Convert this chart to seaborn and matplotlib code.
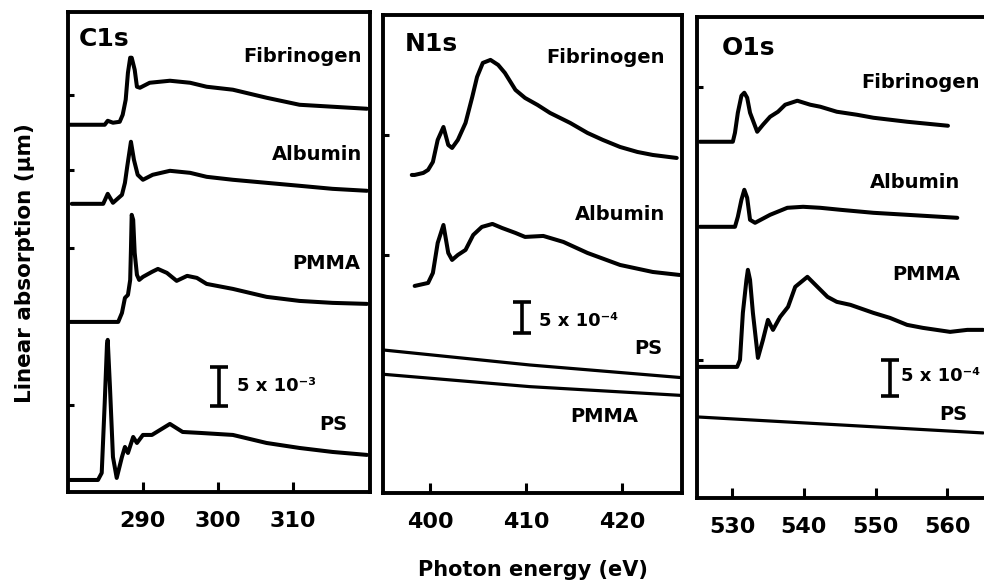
import matplotlib
matplotlib.use("Agg")
import matplotlib.pyplot as plt
import numpy as np
import pandas as pd
import seaborn as sns

# ---------------------------------------------------------------------------
# NEXAFS spectra: photon energy (eV) and linear absorption above the
# pre-edge level. C1s in units of 1e-3, N1s and O1s in units of 1e-4.
# Each spectrum is stacked by its offset.
# ---------------------------------------------------------------------------

# ---- C1s edge ----
c1s_fib_e = [280.3, 284.9, 285.3, 286.0, 286.9, 287.3, 287.7, 288.0, 288.3, 288.5,
             288.9, 289.2, 289.6, 290.9, 293.6, 296.3, 298.5, 302.0, 306.5, 310.9,
             315.3, 319.9]
c1s_fib_a = [0.0, 0.0, 0.51, 0.26, 0.38, 1.28, 3.2, 6.67, 8.59, 8.59,
             7.05, 4.87, 4.74, 5.38, 5.64, 5.38, 4.87, 4.49, 3.46, 2.56,
             2.31, 2.05]
c1s_alb_e = [280.5, 284.7, 285.3, 286.0, 287.2, 287.6, 287.9, 288.4, 288.8, 289.3,
             290.0, 291.3, 293.6, 296.3, 298.5, 302.0, 306.5, 310.9, 315.3, 319.9]
c1s_alb_a = [0.0, 0.0, 1.28, 0.13, 1.15, 2.69, 4.74, 7.95, 5.64, 3.72,
             3.08, 3.72, 4.23, 3.97, 3.46, 3.08, 2.69, 2.31, 1.92, 1.67]
c1s_pmma_e = [280.3, 286.7, 287.2, 287.6, 288.0, 288.3, 288.4, 288.5, 288.7, 288.9,
              289.2, 289.5, 290.0, 291.2, 292.0, 293.2, 294.5, 295.9, 297.2, 298.5,
              302.0, 306.5, 310.9, 315.3, 319.9]
c1s_pmma_a = [0.0, 0.0, 1.15, 3.08, 3.46, 5.38, 9.23, 13.72, 13.08, 8.85,
              6.03, 5.38, 5.77, 6.41, 6.79, 6.28, 5.26, 5.9, 5.64, 4.87,
              4.23, 3.21, 2.69, 2.44, 2.31]
c1s_ps_e = [280.3, 284.0, 284.5, 284.9, 285.2, 285.3, 285.6, 286.0, 286.5, 287.2,
            287.6, 288.0, 288.7, 289.2, 290.0, 291.2, 293.6, 295.3, 297.6, 302.0,
            306.5, 310.9, 315.3, 319.9]
c1s_ps_a = [0.0, 0.0, 0.9, 9.87, 17.31, 17.95, 11.92, 2.95, 0.26, 2.95,
            4.23, 3.46, 5.51, 4.74, 5.77, 5.77, 7.18, 6.15, 6.03, 5.77,
            4.74, 4.1, 3.59, 3.21]
c1s_offsets = {"Fibrinogen": 47.05, "Albumin": 36.92, "PMMA": 21.79, "PS": 1.54}

# ---- N1s edge ----
n1s_fib_e = [398.1, 398.4, 399.3, 399.8, 400.3, 400.8, 401.4, 401.9, 402.3, 402.9,
             403.7, 404.4, 404.9, 405.5, 406.3, 407.1, 407.8, 408.9, 409.9, 411.2,
             412.5, 414.6, 416.4, 418.0, 419.8, 421.6, 423.2, 425.7]
n1s_fib_a = [0.0, 0.0, 0.33, 0.82, 2.12, 5.71, 7.82, 4.89, 4.4, 5.71,
             8.48, 12.71, 15.97, 18.26, 18.75, 17.93, 16.63, 13.86, 12.55, 11.41,
             10.11, 8.48, 6.85, 5.71, 4.56, 3.75, 3.26, 2.77]
n1s_alb_e = [398.4, 399.8, 400.3, 400.8, 401.4, 401.9, 402.3, 402.9, 403.7, 404.5,
             405.4, 406.5, 407.5, 408.9, 409.9, 411.8, 413.9, 416.4, 419.8, 423.2,
             426.0]
n1s_alb_a = [0.0, 0.49, 2.12, 7.01, 9.94, 5.38, 4.24, 5.05, 5.87, 8.31,
             9.62, 10.11, 9.45, 8.64, 7.99, 8.15, 7.17, 5.38, 3.42, 2.28,
             1.79]
n1s_ps_e = [395.1, 410.4, 426.2]
n1s_ps_a = [23.31, 20.86, 18.8]
n1s_pmma_e = [395.1, 410.4, 426.2]
n1s_pmma_a = [19.35, 17.33, 15.9]
n1s_offsets = {"Fibrinogen": 51.83, "Albumin": 33.74, "PS": 0.0, "PMMA": 0.0}

# ---- O1s edge ----
o1s_fib_e = [525.5, 530.1, 530.4, 530.8, 531.3, 531.7, 532.1, 532.5, 533.5, 534.3,
             535.3, 536.4, 537.4, 539.1, 540.9, 542.3, 544.6, 547.4, 549.7, 554.4,
             560.1]
o1s_fib_a = [0.0, 0.0, 1.26, 4.06, 6.44, 6.86, 6.16, 4.06, 1.4, 2.38,
             3.5, 4.2, 5.18, 5.74, 5.18, 4.9, 4.2, 3.78, 3.36, 2.8,
             2.24]
o1s_alb_e = [525.5, 530.4, 530.8, 531.3, 531.7, 532.1, 532.5, 533.2, 535.3, 537.7,
             539.9, 542.3, 545.1, 549.7, 554.4, 561.4]
o1s_alb_a = [0.0, 0.0, 1.4, 3.78, 5.18, 4.06, 0.98, 0.56, 1.68, 2.66,
             2.8, 2.66, 2.38, 1.96, 1.68, 1.26]
o1s_pmma_e = [525.1, 530.7, 531.1, 531.5, 532.0, 532.2, 532.5, 532.9, 533.4, 533.6,
              534.3, 535.0, 535.7, 536.7, 537.8, 538.8, 540.5, 541.9, 543.3, 544.6,
              546.5, 549.7, 552.0, 554.4, 556.6, 560.4, 562.8, 565.0]
o1s_pmma_a = [0.0, 0.0, 0.98, 7.56, 12.18, 13.58, 12.18, 7.56, 3.08, 1.26,
              3.78, 6.58, 5.18, 7.0, 8.4, 11.2, 12.6, 11.2, 9.8, 9.1,
              8.68, 7.56, 6.86, 5.88, 5.46, 4.9, 5.18, 5.18]
o1s_ps_e = [525.1, 545.1, 565.0]
o1s_ps_a = [11.34, 10.22, 9.1]
o1s_offsets = {"Fibrinogen": 49.84, "Albumin": 37.94, "PMMA": 18.34, "PS": 0.0}

# Scale bar length (5 x 10^-3 for C1s, 5 x 10^-4 for N1s / O1s)
scale_bar = 5.0

x_ticks = {"C1s": [290, 300, 310], "N1s": [400, 410, 420], "O1s": [530, 540, 550, 560]}


def spectrum_frame(energy, absorption, offset, name):
    return pd.DataFrame({"energy": energy,
                         "absorption": np.asarray(absorption) + offset,
                         "sample": name})


c1s = pd.concat([
    spectrum_frame(c1s_fib_e, c1s_fib_a, c1s_offsets["Fibrinogen"], "Fibrinogen"),
    spectrum_frame(c1s_alb_e, c1s_alb_a, c1s_offsets["Albumin"], "Albumin"),
    spectrum_frame(c1s_pmma_e, c1s_pmma_a, c1s_offsets["PMMA"], "PMMA"),
    spectrum_frame(c1s_ps_e, c1s_ps_a, c1s_offsets["PS"], "PS"),
])
n1s = pd.concat([
    spectrum_frame(n1s_fib_e, n1s_fib_a, n1s_offsets["Fibrinogen"], "Fibrinogen"),
    spectrum_frame(n1s_alb_e, n1s_alb_a, n1s_offsets["Albumin"], "Albumin"),
    spectrum_frame(n1s_ps_e, n1s_ps_a, n1s_offsets["PS"], "PS"),
    spectrum_frame(n1s_pmma_e, n1s_pmma_a, n1s_offsets["PMMA"], "PMMA"),
])
o1s = pd.concat([
    spectrum_frame(o1s_fib_e, o1s_fib_a, o1s_offsets["Fibrinogen"], "Fibrinogen"),
    spectrum_frame(o1s_alb_e, o1s_alb_a, o1s_offsets["Albumin"], "Albumin"),
    spectrum_frame(o1s_pmma_e, o1s_pmma_a, o1s_offsets["PMMA"], "PMMA"),
    spectrum_frame(o1s_ps_e, o1s_ps_a, o1s_offsets["PS"], "PS"),
])

sns.set_style("ticks")
plt.rcParams["font.family"] = ["DejaVu Sans"]
plt.rcParams["font.weight"] = "bold"
plt.rcParams["text.color"] = "black"
plt.rcParams["xtick.color"] = "black"
plt.rcParams["ytick.color"] = "black"
plt.rcParams["axes.labelcolor"] = "black"

fig = plt.figure(figsize=(9.84, 5.81), dpi=100)

panels = [
    dict(name="C1s", data=c1s, rect=[0.0691, 0.1532, 0.3069, 0.8262],
         xlim=(280.0, 320.3), ylim=(0, 61.5), yticks=[50.9, 41.3, 31.3, 11.2],
         flat=[],
         labels=[("Fibrinogen", 0.974, 0.908, "right"), ("Albumin", 0.974, 0.704, "right"),
                 ("PMMA", 0.967, 0.475, "right"), ("PS", 0.924, 0.140, "right")],
         title_pos=(0.036, 0.944),
         bar=(300.1, 11.03, 302.5, 13.6, "5 x 10\u207b\u00b3")),
    dict(name="N1s", data=n1s, rect=[0.3892, 0.1515, 0.3039, 0.8227],
         xlim=(395.1, 426.25), ylim=(0, 77.9), yticks=[58.35, 38.79],
         flat=["PS", "PMMA"],
         labels=[("Fibrinogen", 0.943, 0.912, "right"), ("Albumin", 0.943, 0.582, "right"),
                 ("PS", 0.933, 0.303, "right"), ("PMMA", 0.739, 0.159, "center")],
         title_pos=(0.074, 0.939),
         bar=(409.6, 26.08, 411.4, 28.0, "5 x 10\u207b\u2074")),
    dict(name="O1s", data=o1s, rect=[0.7083, 0.1429, 0.2988, 0.8279],
         xlim=(525.1, 566.1), ylim=(0, 67.3), yticks=[57.5, 19.3],
         flat=["PS"],
         labels=[("Fibrinogen", 0.963, 0.863, "right"), ("Albumin", 0.895, 0.655, "right"),
                 ("PMMA", 0.895, 0.464, "right"), ("PS", 0.918, 0.173, "right")],
         title_pos=(0.085, 0.936),
         bar=(552.0, 14.28, 553.6, 17.0, "5 x 10\u207b\u2074")),
]

for p in panels:
    ax = fig.add_axes(p["rect"])
    for sample, grp in p["data"].groupby("sample", sort=False):
        lw = 2.3 if sample in p["flat"] else 2.9
        sns.lineplot(data=grp, x="energy", y="absorption", ax=ax, color="black",
                     lw=lw, estimator=None, sort=False, legend=False)
    ax.set_xlim(*p["xlim"])
    ax.set_ylim(*p["ylim"])
    ax.set_xticks(x_ticks[p["name"]])
    ax.set_yticks(p["yticks"])
    ax.set_yticklabels([])
    ax.set_xlabel("")
    ax.set_ylabel("")
    ax.tick_params(axis="x", direction="in", length=7, width=2.2, pad=14,
                   labelsize=16, color="black", labelcolor="black")
    ax.tick_params(axis="y", direction="in", length=4, width=2.2, color="black")
    for lab in ax.get_xticklabels():
        lab.set_fontweight("bold")
    for s in ax.spines.values():
        s.set_linewidth(2.8)
        s.set_color("black")

    ax.text(*p["title_pos"], p["name"], transform=ax.transAxes, fontsize=18,
            fontweight="bold", ha="left", va="center", color="black")
    for txt, x, y, ha in p["labels"]:
        ax.text(x, y, txt, transform=ax.transAxes, fontsize=14, fontweight="bold",
                ha=ha, va="center", color="black")

    bx, by, tx, ty, btxt = p["bar"]
    ax.errorbar([bx], [by + scale_bar / 2], yerr=[scale_bar / 2], color="black",
                elinewidth=2.6, capsize=6.5, capthick=2.6, fmt="none")
    ax.text(tx, ty, btxt, fontsize=13, fontweight="bold", ha="left", va="center",
            color="black")

fig.text(0.0254, 0.547, "Linear absorption (µm)", rotation=90, fontsize=15.5,
         fontweight="bold", ha="center", va="center", color="black")
fig.text(0.5417, 0.019, "Photon energy (eV)", fontsize=15, fontweight="bold",
         ha="center", va="center", color="black")

fig.savefig("out.png", dpi=100, facecolor="white")
